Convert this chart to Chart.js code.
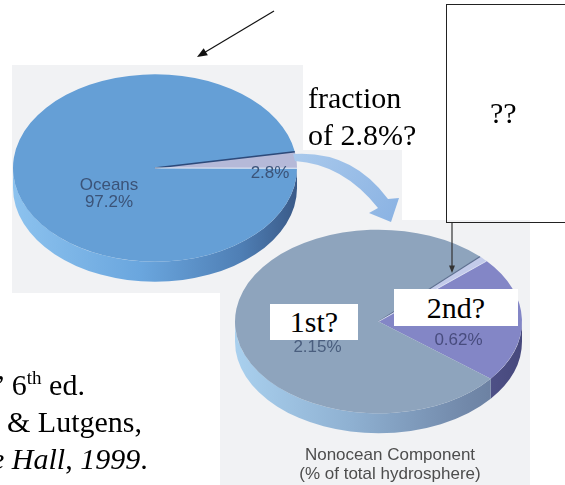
<!DOCTYPE html>
<html>
<head>
<meta charset="utf-8">
<script src="https://cdn.jsdelivr.net/npm/chart.js@4/dist/chart.umd.min.js"></script>
<style>
  body { margin: 0; width: 565px; height: 485px; overflow: hidden; position: relative; background: #fff;
         font-family: "Liberation Serif", "Times New Roman", serif; }
  canvas { position: absolute; }
  .t { position: absolute; font-size: 30px; line-height: 37px; color: #000; white-space: nowrap; }
  .wbox { position: absolute; background: #fff; text-align: center; font-size: 30px; white-space: nowrap; }
  .cap { position: absolute; left: 290px; width: 200px; top: 445px; text-align: center; font: 17px/19px "Liberation Sans", Arial, sans-serif; color: #4d4d4d; }
</style>
</head>
<body>
<canvas id="bg" width="565" height="485" style="left:0;top:0"></canvas>
<canvas id="nonoceanPie" width="297" height="297" style="left:230px;top:173px"></canvas>
<canvas id="oceanPie" width="294" height="294" style="left:8px;top:21px"></canvas>
<canvas id="arrows" width="565" height="485" style="left:0;top:0"></canvas>

<div class="t" style="left:308px;top:79px">fraction<br>of 2.8%?</div>
<div style="position:absolute;left:446px;top:4px;width:140px;height:217px;border:1px solid #222"></div>
<div class="t" style="left:490px;top:94px">??</div>
<div class="wbox" style="left:270px;top:304px;width:88px;height:36px;line-height:36px">1st?</div>
<div class="wbox" style="left:394px;top:289px;width:124px;height:37px;line-height:37px">2nd?</div>
<div class="cap">Nonocean Component<br>(% of total hydrosphere)</div>

<div class="t" style="left:-9px;top:366px">” 6<sup style="font-size:19px;vertical-align:11px;line-height:0">th</sup> ed.</div>
<div class="t" style="left:7px;top:403px">&amp; Lutgens,</div>
<div class="t" style="left:-9px;top:440px"><i>e Hall</i>, <i>1999</i>.</div>

<script>
// hydrosphere split
var oceanCategories = ["Nonocean", "Oceans"];
var oceanValues = [2.8, 97.2];
var nonoceanCategories = ["Other", "Groundwater", "Ice sheets and glaciers"];
var nonoceanValues = [0.03, 0.62, 2.15];

// scanned picture backgrounds
var bg = document.getElementById("bg").getContext("2d");
bg.fillStyle = "#f1f2f4";
bg.fillRect(12, 65, 291, 228);
bg.fillRect(303, 150, 99, 70);
bg.fillRect(220, 220, 310, 265);

// flat pie -> tilted 3d pie
var pie3d = {
  id: "pie3d",
  beforeDatasetsDraw: function (chart, args, o) {
    var ctx = chart.ctx, arcs = chart.getDatasetMeta(0).data;
    var cx = arcs[0].x, cy = arcs[0].y, r = arcs[0].outerRadius;
    var t = o.depth / o.squash;
    ctx.save();
    ctx.translate(cx, cy);
    ctx.scale(1, o.squash);
    ctx.translate(-cx, -cy);
    arcs.forEach(function (arc, i) {
      var g = ctx.createLinearGradient(cx - r, 0, cx + r, 0);
      o.side[i].forEach(function (s) { g.addColorStop(s[0], s[1]); });
      for (var k = -1; k <= 1; k++) {
        var lo = Math.max(arc.startAngle, 2 * Math.PI * k);
        var hi = Math.min(arc.endAngle, 2 * Math.PI * k + Math.PI);
        if (hi <= lo) continue;
        ctx.beginPath();
        ctx.arc(cx, cy, r, lo, hi);
        ctx.arc(cx, cy + t, r, hi, lo, true);
        ctx.closePath();
        ctx.fillStyle = g;
        ctx.fill();
      }
    });
  },
  afterDatasetsDraw: function (chart, args, o) {
    var ctx = chart.ctx, arcs = chart.getDatasetMeta(0).data;
    var cx = arcs[0].x, cy = arcs[0].y, r = arcs[0].outerRadius;
    o.edges.forEach(function (e) {
      var a = arcs[e.index][e.at];
      ctx.beginPath();
      ctx.moveTo(cx, cy);
      ctx.lineTo(cx + r * Math.cos(a), cy + r * Math.sin(a));
      ctx.strokeStyle = e.color;
      ctx.lineWidth = e.width;
      ctx.stroke();
    });
    ctx.restore();
    ctx.save();
    ctx.font = '17px "Liberation Sans", Arial, sans-serif';
    ctx.textAlign = "center";
    ctx.textBaseline = "middle";
    o.labels.forEach(function (l) {
      ctx.fillStyle = l.color;
      l.lines.forEach(function (s, j) { ctx.fillText(s, cx + l.dx, cy + l.dy + j * 17); });
    });
    ctx.restore();
  }
};

function makePie(id, cats, vals, colors, rotation, opts) {
  return new Chart(document.getElementById(id), {
    type: "pie",
    data: { labels: cats, datasets: [{ data: vals, backgroundColor: colors, borderWidth: 0 }] },
    options: {
      responsive: false,
      animation: false,
      events: [],
      rotation: rotation,
      layout: { padding: 5 },
      plugins: { legend: { display: false }, tooltip: { enabled: false }, pie3d: opts }
    },
    plugins: [pie3d]
  });
}

makePie("oceanPie", oceanCategories, oceanValues, ["#b5b9d8", "#659fd6"], 80, {
  squash: 0.66, depth: 20,
  side: [
    [[0, "#7d83b0"], [1, "#5a5f92"]],
    [[0, "#8cc2ee"], [0.45, "#6aa6de"], [0.8, "#4f7fb5"], [1, "#3a5a88"]]
  ],
  edges: [
    { index: 0, at: "startAngle", color: "#2d4a7a", width: 2.5 },
    { index: 0, at: "endAngle", color: "#e6ebf5", width: 1.5 }
  ],
  labels: [
    { lines: [oceanCategories[1], oceanValues[1] + "%"], dx: -46, dy: 17, color: "#3b5378" },
    { lines: [oceanValues[0] + "%"], dx: 115, dy: 5, color: "#3b5378" }
  ]
});

makePie("nonoceanPie", nonoceanCategories, nonoceanValues, ["#c3cbea", "#8386c6", "#8ea4bd"], 45, {
  squash: 0.64, depth: 20,
  side: [
    [[0, "#9aa0cc"], [1, "#9aa0cc"]],
    [[0, "#5a5c96"], [0.8, "#55578f"], [1, "#46487c"]],
    [[0, "#a9d0ee"], [0.4, "#8fb1d2"], [0.8, "#7289aa"], [1, "#66799a"]]
  ],
  edges: [
    { index: 0, at: "startAngle", color: "#5d6f90", width: 1.5 },
    { index: 0, at: "endAngle", color: "#e3e8f6", width: 1 }
  ],
  labels: [
    { lines: [nonoceanValues[2] + "%"], dx: -61, dy: 26, color: "#4a5e7e" },
    { lines: [nonoceanValues[1] + "%"], dx: 80, dy: 19, color: "#484c7e" }
  ]
});

// arrows
var ac = document.getElementById("arrows").getContext("2d");
function arrow(x1, y1, x2, y2, head, color) {
  var a = Math.atan2(y2 - y1, x2 - x1);
  ac.strokeStyle = color;
  ac.fillStyle = color;
  ac.lineWidth = 1.2;
  ac.beginPath();
  ac.moveTo(x1, y1);
  ac.lineTo(x2 - head * 0.8 * Math.cos(a), y2 - head * 0.8 * Math.sin(a));
  ac.stroke();
  ac.beginPath();
  ac.moveTo(x2, y2);
  ac.lineTo(x2 - head * Math.cos(a - 0.38), y2 - head * Math.sin(a - 0.38));
  ac.lineTo(x2 - head * Math.cos(a + 0.38), y2 - head * Math.sin(a + 0.38));
  ac.closePath();
  ac.fill();
}
arrow(274, 11, 197, 57, 11, "#111");
arrow(452, 222, 452, 273, 8, "#333");

// curved blue arrow from the 2.8% slice to the lower pie
var g = ac.createLinearGradient(293, 155, 395, 220);
g.addColorStop(0, "#a9c9ec");
g.addColorStop(1, "#8bb3e3");
ac.fillStyle = g;
ac.beginPath();
ac.moveTo(293, 154);
ac.quadraticCurveTo(352, 150, 388, 199);
ac.lineTo(399, 198);
ac.lineTo(391, 222);
ac.lineTo(369, 213);
ac.lineTo(378, 208);
ac.quadraticCurveTo(343, 164, 295, 161);
ac.closePath();
ac.fill();
</script>
</body>
</html>
